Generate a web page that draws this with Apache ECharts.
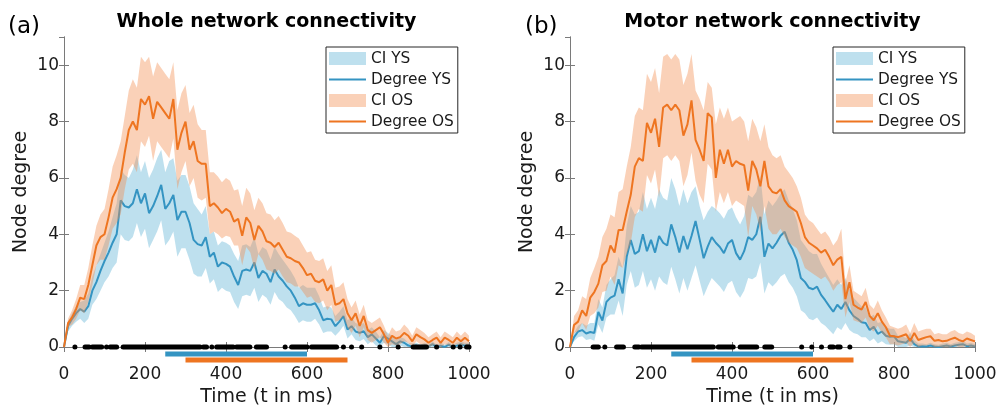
<!DOCTYPE html>
<html>
<head>
<meta charset="utf-8">
<script src="https://cdn.jsdelivr.net/npm/echarts@6/dist/echarts.min.js"></script>
<style>html,body{margin:0;padding:0;background:#fff;}#c{width:997px;height:406px;}</style>
</head>
<body>
<div id="c"></div>
<script>
// ---- data ----
const TIME = [0,10,20,30,40,50,60,70,80,90,100,110,120,130,140,150,160,170,180,190,200,210,220,230,240,250,260,270,280,290,300,310,320,330,340,350,360,370,380,390,400,410,420,430,440,450,460,470,480,490,500,510,520,530,540,550,560,570,580,590,600,610,620,630,640,650,660,670,680,690,700,710,720,730,740,750,760,770,780,790,800,810,820,830,840,850,860,870,880,890,900,910,920,930,940,950,960,970,980,990,1000];
const X_TICKS = [0,200,400,600,800,1000];
const Y_TICKS = [0,2,4,6,8,10];

// Panel (a) whole network
const A_OS_MEAN = [0,0.85,1.05,1.35,1.75,1.7,2.2,2.9,3.6,3.9,
4.0,4.6,5.3,5.6,6.0,6.9,7.7,8.0,7.7,8.8,
8.6,8.9,8.1,8.7,8.5,8.3,8.1,8.8,7.0,7.6,
8.0,7.0,7.3,6.6,6.5,6.5,5.0,5.1,4.95,4.75,
4.9,4.8,4.45,4.55,3.95,4.6,4.4,3.8,4.3,4.1,
3.75,3.7,3.55,3.7,3.45,3.2,3.15,3.05,3.0,2.8,
2.55,2.6,2.35,2.3,2.4,2.0,2.2,1.5,1.55,1.7,
1.2,0.95,1.2,0.75,1.1,0.6,0.5,0.6,0.7,0.45,
0.15,0.4,0.3,0.35,0.5,0.4,0.2,0.45,0.35,0.27,
0.15,0.25,0.33,0.15,0.33,0.25,0.15,0.33,0.2,0.33,
0.2];
const A_OS_UP = [0,1.0,1.3,1.7,2.2,2.2,2.8,3.6,4.3,4.7,
4.9,5.6,6.4,6.8,7.3,8.2,9.1,9.5,9.2,10.3,
10.1,10.3,9.6,10.1,9.9,9.7,9.5,10.1,8.4,9.0,
9.3,8.3,8.6,7.9,7.7,7.7,6.2,6.2,6.05,5.85,
6.0,5.9,5.55,5.6,5.0,5.65,5.45,4.85,5.3,5.1,
4.75,4.7,4.5,4.65,4.4,4.1,4.05,3.95,3.85,3.6,
3.35,3.4,3.1,3.05,3.15,2.7,2.9,2.1,2.15,2.3,
1.7,1.4,1.65,1.15,1.5,0.95,0.85,0.95,1.05,0.75,
0.4,0.7,0.55,0.6,0.8,0.65,0.4,0.7,0.6,0.5,
0.35,0.45,0.55,0.35,0.55,0.45,0.35,0.55,0.4,0.55,
0.4];
const A_OS_LO = [0,0.7,0.8,1.0,1.3,1.2,1.6,2.2,2.9,3.1,
3.1,3.6,4.2,4.4,4.7,5.6,6.3,6.5,6.2,7.3,
7.1,7.5,6.6,7.3,7.1,6.9,6.7,7.4,5.6,6.2,
6.6,5.7,6.0,5.3,5.2,5.3,4.0,4.1,4.0,3.85,
3.95,3.9,3.6,3.6,2.9,3.55,3.35,2.75,3.3,3.1,
2.75,2.7,2.6,2.75,2.5,2.3,2.25,2.15,2.15,1.95,
1.75,1.8,1.6,1.55,1.65,1.3,1.5,0.9,0.95,1.1,
0.7,0.5,0.75,0.35,0.7,0.25,0.15,0.25,0.35,0.15,
0,0.1,0.05,0.1,0.2,0.15,0,0.2,0.1,0.05,
0,0.05,0.1,0,0.1,0.05,0,0.1,0.02,0.1,
0.02];
const A_YS_MEAN = [0,0.75,1.0,1.2,1.35,1.25,1.45,2.0,2.3,2.7,
3.05,3.35,3.7,4.0,5.2,5.0,4.95,5.1,5.6,5.1,
5.45,4.75,5.0,5.35,5.75,4.9,5.1,5.4,4.5,4.8,
4.8,4.4,3.8,3.65,3.6,3.9,3.2,3.35,2.85,3.0,
2.95,2.85,2.5,2.2,2.7,2.75,2.7,3.0,2.45,2.7,
2.6,2.3,2.75,2.5,2.35,2.15,2.0,1.75,1.45,1.55,
1.5,1.5,1.55,1.3,0.95,1.0,0.98,0.74,0.9,1.1,
0.62,0.74,0.55,0.5,0.56,0.35,0.45,0.3,0.15,0.39,
0.3,0.2,0.1,0.2,0.15,0.05,0.02,0.05,0,0.05,
0.02,0.1,0,0.05,0,0.08,0,0.05,0.1,0.05,
0.05];
const A_YS_UP = [0,0.9,1.2,1.45,1.6,1.65,1.9,2.5,2.9,3.3,
3.7,4.1,4.6,5.1,6.3,6.1,6.0,6.3,6.8,6.2,
6.6,6.0,6.3,6.7,7.0,6.2,6.6,6.7,5.9,6.1,
6.1,5.7,5.1,4.9,4.7,5.0,4.0,4.1,3.6,3.75,
3.7,3.6,3.3,3.05,3.6,3.65,3.55,3.9,3.3,3.55,
3.45,3.1,3.55,3.3,3.1,2.9,2.7,2.45,2.1,2.2,
2.1,2.1,2.1,1.8,1.4,1.45,1.4,1.1,1.25,1.45,
0.95,1.05,0.85,0.8,0.85,0.6,0.7,0.55,0.35,0.6,
0.5,0.4,0.25,0.35,0.3,0.15,0.12,0.15,0.08,0.15,
0.1,0.2,0.08,0.15,0.08,0.18,0.08,0.15,0.2,0.15,
0.15];
const A_YS_LO = [0,0.55,0.75,0.9,1.0,0.85,1.0,1.5,1.7,2.0,
2.3,2.5,2.8,3.0,4.0,3.8,3.75,3.9,4.4,3.9,
4.2,3.5,3.8,4.1,4.5,3.6,3.8,4.1,3.2,3.5,
3.5,3.1,2.6,2.5,2.5,2.8,2.25,2.4,1.95,2.1,
2.0,1.95,1.6,1.35,1.8,1.85,1.8,2.1,1.6,1.85,
1.75,1.5,1.95,1.7,1.6,1.4,1.3,1.1,0.85,0.95,
0.9,0.9,1.0,0.8,0.5,0.55,0.55,0.4,0.55,0.75,
0.3,0.45,0.25,0.2,0.28,0.1,0.2,0.05,0,0.15,
0.1,0,0,0.05,0,0,0,0,0,0,
0,0,0,0,0,0,0,0,0,0,
0];

// Panel (b) motor network
const B_OS_MEAN = [0,0.78,0.9,1.3,1.1,1.75,1.95,2.25,2.9,3.05,
3.6,3.35,4.15,4.15,4.8,5.4,6.4,6.7,6.6,7.95,
7.6,8.1,7.1,8.5,8.6,8.4,8.6,8.4,7.5,7.9,
8.75,7.35,7.0,6.6,8.3,8.15,6.0,7.0,6.5,7.0,
6.4,6.6,6.5,6.45,5.55,6.6,6.3,5.7,6.6,5.7,
5.5,5.45,5.6,5.2,5.0,4.9,4.8,4.4,3.9,3.7,
3.6,3.5,3.35,3.45,3.2,2.9,3.1,3.2,1.7,2.3,
1.5,1.4,1.33,1.6,1.1,0.95,1.2,0.9,0.7,0.4,
0.38,0.35,0.4,0.45,0.21,0.5,0.25,0.3,0.35,0.38,
0.22,0.25,0.2,0.22,0.28,0.33,0.25,0.2,0.3,0.25,
0.2];
const B_OS_UP = [0,1.1,1.3,1.8,1.7,2.45,2.8,3.2,3.9,4.2,
4.7,4.6,5.5,5.6,6.4,7.1,8.2,8.5,8.4,9.7,
9.4,9.9,9.0,10.3,10.4,10.2,10.4,10.2,9.3,9.7,
10.4,9.1,8.8,8.4,9.4,9.2,7.9,8.5,8.1,8.5,
8.0,8.1,8.2,8.0,7.3,8.1,7.8,7.3,7.9,7.1,
6.8,6.7,6.8,6.4,6.2,6.0,5.7,5.3,4.7,4.5,
4.4,4.2,4.0,4.1,3.9,3.6,3.8,4.2,2.3,2.9,
2.0,1.9,1.8,2.1,1.5,1.35,1.65,1.3,1.05,0.75,
0.7,0.65,0.7,0.8,0.5,0.85,0.55,0.6,0.65,0.65,
0.45,0.5,0.45,0.45,0.55,0.6,0.5,0.45,0.55,0.5,
0.4];
const B_OS_LO = [0,0.5,0.55,0.85,0.6,1.1,1.2,1.4,1.95,2.0,
2.5,2.2,2.9,2.8,3.3,3.7,4.6,4.9,4.8,6.1,
5.8,6.3,5.3,6.7,6.8,6.6,6.8,6.6,5.7,6.1,
6.9,5.9,5.4,5.1,6.5,6.3,4.8,5.5,5.1,5.5,
5.0,5.2,5.1,5.0,3.9,5.0,4.7,4.1,5.0,4.2,
4.0,4.0,4.2,3.9,3.7,3.6,3.5,3.2,2.8,2.7,
2.6,2.5,2.4,2.5,2.3,2.0,2.2,2.3,1.05,1.6,
0.95,0.9,0.85,1.05,0.65,0.55,0.75,0.5,0.35,0.1,
0.1,0.05,0.1,0.15,0,0.15,0,0.05,0.05,0.1,
0,0,0,0,0,0.05,0,0,0.05,0,
0];
const B_YS_MEAN = [0,0.35,0.55,0.6,0.48,0.53,0.5,1.24,0.94,1.6,
1.75,1.82,2.4,1.9,3.2,3.8,3.3,3.4,4.0,3.4,
3.8,3.35,3.94,3.7,3.6,4.35,3.9,3.35,3.94,3.47,
3.94,4.47,3.82,3.15,3.56,3.9,3.7,3.55,3.33,3.67,
3.8,3.33,3.1,3.4,3.9,3.8,4.0,4.62,3.2,3.67,
3.5,3.7,3.95,4.09,3.7,3.45,3.08,2.45,2.31,2.1,
2.05,2.14,1.85,1.66,1.45,1.25,1.5,1.35,1.6,1.3,
1.1,1.0,0.88,0.85,0.6,0.72,0.47,0.55,0.4,0.36,
0.38,0.2,0.18,0.15,0.3,0.1,0.02,0.03,0.02,0.05,
0.02,0,0.03,0.05,0.02,0.05,0.08,0.1,0.03,0.05,
0.02];
const B_YS_UP = [0,0.5,0.75,0.85,0.75,0.85,0.85,1.7,1.4,2.2,
2.4,2.55,3.2,2.8,4.3,5.0,4.7,4.8,5.5,4.9,
5.3,4.9,5.6,5.3,5.2,6.0,5.6,5.0,5.6,5.1,
5.5,5.7,5.0,4.5,4.8,5.0,4.9,4.75,4.55,4.85,
4.95,4.6,4.35,4.65,5.4,5.3,5.5,6.1,4.7,5.2,
5.0,5.2,5.45,5.6,5.2,4.9,4.5,3.8,3.6,3.4,
3.3,3.3,2.95,2.7,2.45,2.2,2.4,2.2,2.45,2.05,
1.75,1.6,1.45,1.4,1.05,1.15,0.85,0.9,0.7,0.65,
0.65,0.4,0.38,0.32,0.5,0.25,0.12,0.12,0.1,0.15,
0.1,0.08,0.12,0.15,0.1,0.15,0.18,0.22,0.12,0.15,
0.1];
const B_YS_LO = [0,0.2,0.35,0.38,0.25,0.28,0.22,0.8,0.5,1.05,
1.15,1.15,1.65,1.1,2.2,2.7,2.1,2.2,2.7,2.1,
2.4,2.0,2.5,2.3,2.2,2.85,2.4,1.9,2.45,2.0,
2.45,2.9,2.35,1.8,2.15,2.45,2.3,2.15,1.95,2.25,
2.35,1.95,1.75,2.0,2.45,2.4,2.5,3.0,1.9,2.3,
2.15,2.3,2.5,2.6,2.3,2.1,1.8,1.3,1.2,1.0,
0.95,1.05,0.85,0.75,0.6,0.45,0.7,0.6,0.85,0.6,
0.5,0.45,0.35,0.35,0.2,0.3,0.12,0.2,0.1,0.08,
0.1,0,0,0,0.05,0,0,0,0,0,
0,0,0,0,0,0,0,0,0,0,
0];

// significance markers (time intervals, ms) and cluster bars
const SIG_A = [[27,27],[52,62],[70,93],[105,105],[114,130],[146,336],[344,352],[365,365],[377,418],[426,459],[475,500],[546,546],[562,600],[611,673],[690,690],[710,710],[735,735],[780,780],[825,825],[862,895],[920,920],[961,961],[978,978],[994,1000]];
const SIG_B = [[57,70],[86,86],[115,132],[160,170],[177,354],[366,403],[420,461],[481,498],[572,572],[597,597],[621,621],[642,650],[660,667],[691,691]];
const BAR_YS = [250,600];
const BAR_OS = [300,700];

const TITLES = ['Whole network connectivity','Motor network connectivity'];
const PANEL_LABELS = ['(a)','(b)'];
const LEGEND_NAMES = ['CI YS','Degree YS','CI OS','Degree OS'];

// ---- styles ----
const FONT = 'DejaVu Sans';
const BLUE = '#3494c2';
const ORANGE = '#ee7521';
const CI_BLUE = 'rgba(100,180,215,0.42)';
const CI_ORANGE = 'rgba(242,140,78,0.40)';
const AXIS_C = '#7a7a7a';
const TXT = '#1a1a1a';
const GRIDS = [{left:64, top:37, width:405, height:310}, {left:570, top:37, width:405, height:310}];
const LINE_ICON = 'path://M0,0L37,0L37,2.2L0,2.2Z';

const panels = [
  {os:[A_OS_MEAN,A_OS_LO,A_OS_UP], ys:[A_YS_MEAN,A_YS_LO,A_YS_UP], sig:SIG_A},
  {os:[B_OS_MEAN,B_OS_LO,B_OS_UP], ys:[B_YS_MEAN,B_YS_LO,B_YS_UP], sig:SIG_B}
];

const xAxis = [], yAxis = [], series = [], legend = [], graphic = [];
GRIDS.forEach((g, gi) => {
  const common = {gridIndex:gi, type:'value', splitLine:{show:false},
    axisLine:{show:true, lineStyle:{color:AXIS_C, width:1}},
    axisTick:{show:true, inside:true, length:5, lineStyle:{color:AXIS_C}}};
  xAxis.push(Object.assign({}, common, {position:'bottom', min:X_TICKS[0], max:X_TICKS[X_TICKS.length-1], interval:X_TICKS[1]-X_TICKS[0],
    axisLabel:{color:TXT, fontFamily:FONT, fontSize:17, margin:19, formatter: v => String(v)},
    name:'Time (t in ms)', nameLocation:'middle', nameGap:40,
    nameTextStyle:{color:TXT, fontFamily:FONT, fontSize:19}}));
  xAxis.push(Object.assign({}, common, {position:'top', min:X_TICKS[0], max:X_TICKS[X_TICKS.length-1], interval:X_TICKS[1]-X_TICKS[0], axisLabel:{show:false}}));
  yAxis.push(Object.assign({}, common, {position:'left', min:Y_TICKS[0], max:11, interval:Y_TICKS[1]-Y_TICKS[0],
    axisLabel:{color:TXT, fontFamily:FONT, fontSize:17, margin:5, showMaxLabel:false},
    name:'Node degree', nameLocation:'middle', nameGap:33, nameRotate:90,
    nameTextStyle:{color:TXT, fontFamily:FONT, fontSize:19}}));
  yAxis.push(Object.assign({}, common, {position:'right', min:Y_TICKS[0], max:11, interval:Y_TICKS[1]-Y_TICKS[0], axisLabel:{show:false}}));

  const xi = gi*2, yi = gi*2;
  const P = panels[gi];
  const pair = arr => TIME.map((t,i)=>[t, arr[i]]);
  // confidence band: one polygon through the axis scales
  const band = (lo, up, color, name, z) => ({
    type:'custom', name:name, xAxisIndex:xi, yAxisIndex:yi,
    data: TIME.map((t,i)=>[t, lo[i], up[i]]), dimensions:['t','lo','up'], encode:{x:0, y:[1,2]},
    itemStyle:{color:color}, silent:true, z:z, animation:false,
    renderItem:(params, api) => {
      if (params.dataIndexInside !== 0) return null;
      const n = params.dataInsideLength;
      const top = [], bot = [];
      for (let i = 0; i < n; i++) {
        top.push(api.coord([api.value(0, i), api.value(2, i)]));
        bot.push(api.coord([api.value(0, i), api.value(1, i)]));
      }
      return {type:'polygon', shape:{points: top.concat(bot.reverse())}, style:{fill:color}};
    }
  });
  series.push(band(P.ys[1], P.ys[2], CI_BLUE, 'CI YS', 2));
  series.push({type:'line', name:'Degree YS', xAxisIndex:xi, yAxisIndex:yi, data:pair(P.ys[0]), symbol:'none',
    lineStyle:{color:BLUE, width:2}, itemStyle:{color:BLUE}, z:3, animation:false});
  series.push(band(P.os[1], P.os[2], CI_ORANGE, 'CI OS', 4));
  series.push({type:'line', name:'Degree OS', xAxisIndex:xi, yAxisIndex:yi, data:pair(P.os[0]), symbol:'none',
    lineStyle:{color:ORANGE, width:2}, itemStyle:{color:ORANGE}, z:5, animation:false});

  // significance dots on the time axis
  series.push({type:'custom', xAxisIndex:xi, yAxisIndex:yi, data:P.sig, dimensions:['s','e'], encode:{x:[0,1]},
    silent:true, z:8, animation:false, clip:false,
    renderItem:(params, api) => {
      const p0 = api.coord([api.value(0), 0]);
      const p1 = api.coord([api.value(1), 0]);
      const d = 5;
      return {type:'rect', shape:{x:p0[0]-d/2, y:p0[1]-d/2, width:p1[0]-p0[0]+d, height:d, r:d/2}, style:{fill:'#000'}};
    }});
  // cluster bars under the axis
  const bars = [{range:BAR_YS, color:BLUE, dy:7}, {range:BAR_OS, color:ORANGE, dy:13}];
  bars.forEach(b => {
    series.push({type:'custom', xAxisIndex:xi, yAxisIndex:yi, data:[b.range], dimensions:['s','e'], encode:{x:[0,1]},
      silent:true, z:8, animation:false, clip:false,
      renderItem:(params, api) => {
        const p0 = api.coord([api.value(0), 0]);
        const p1 = api.coord([api.value(1), 0]);
        return {type:'rect', shape:{x:p0[0], y:p0[1]+b.dy-2.5, width:p1[0]-p0[0], height:5}, style:{fill:b.color}};
      }});
  });

  legend.push({orient:'vertical', left: gi===0 ? 326 : 833, top:47, padding:[4,4,4,3], itemGap:6, itemWidth:37, itemHeight:13,
    borderColor:'#262626', borderWidth:1, borderRadius:0, backgroundColor:'#fff', selectedMode:false, z:20,
    textStyle:{fontFamily:FONT, fontSize:15.4, color:TXT, lineHeight:13},
    data:[
      {name:LEGEND_NAMES[0], icon:'rect', itemStyle:{color:CI_BLUE}},
      {name:LEGEND_NAMES[1], icon:LINE_ICON, itemStyle:{color:BLUE}},
      {name:LEGEND_NAMES[2], icon:'rect', itemStyle:{color:CI_ORANGE}},
      {name:LEGEND_NAMES[3], icon:LINE_ICON, itemStyle:{color:ORANGE}}
    ]});

  graphic.push({type:'text', x:g.left + g.width/2, y:22, style:{text:TITLES[gi], font:'bold 19px "DejaVu Sans"', fill:'#000', textAlign:'center', textVerticalAlign:'middle'}});
  graphic.push({type:'text', x: gi===0 ? 8 : 525, y:27, style:{text:PANEL_LABELS[gi], font:'23px "DejaVu Sans"', fill:'#000', textAlign:'left', textVerticalAlign:'middle'}});
});

const chart = echarts.init(document.getElementById('c'), null, {renderer:'canvas'});
chart.setOption({
  animation:false,
  backgroundColor:'#fff',
  grid: GRIDS.map(g => Object.assign({containLabel:false, outerBoundsMode:'none'}, g)),
  xAxis, yAxis, series, legend, graphic
});
</script>
</body>
</html>
